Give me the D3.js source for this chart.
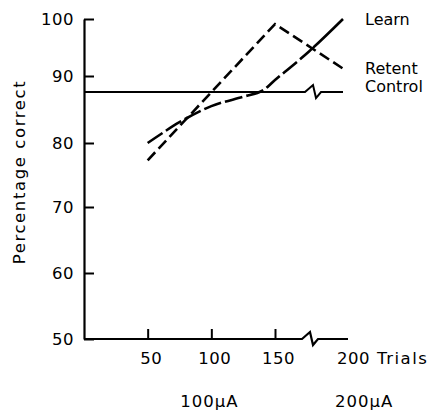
<!DOCTYPE html>
<html>
<head>
<meta charset="utf-8">
<script src="https://cdn.jsdelivr.net/npm/d3@7"></script>
<style>
  body { margin: 0; background: #fff; }
  text { font-family: "DejaVu Sans", sans-serif; fill: #000; }
</style>
</head>
<body>
<div id="chart"></div>
<script>
// trials and percentage correct
var learnTrials = [50, 75, 100, 125, 140, 150, 175, 200];
var learnPct    = [80.0, 83.1, 85.5, 86.9, 87.8, 89.4, 94.3, 100];

var retentTrials = [50, 150, 200];
var retentPct    = [77.3, 99.1, 91.3];

var controlTrials = [0, 200];
var controlPct    = [87.6, 87.6];

var yTicks = [50, 60, 70, 80, 90, 100];
var xTicks = [50, 100, 150];
var breakAt = 175;   // axis break between 150 and 200
var currents = ["100µA", "200µA"];

var width = 442, height = 414;

// the original is hand drawn, so tick spacing is slightly uneven
var y = d3.scaleLinear()
    .domain([50, 60, 70, 80, 90, 100])
    .range([339, 273, 207, 143, 76, 19]);

var x = d3.scaleLinear()
    .domain([0, 150, 200])
    .range([84, 275, 343]);

var svg = d3.select("#chart")
    .append("svg")
    .attr("width", width)
    .attr("height", height);

function zip(a, b) {
    return a.map(function(d, i) { return [d, b[i]]; });
}

//y axis
var yAxis = svg.append("g")
    .attr("transform", "translate(" + x(0) + ",0)")
    .call(d3.axisLeft(y).tickValues(yTicks).tickSizeInner(-10).tickSizeOuter(0).tickPadding(10));
yAxis.select(".domain").attr("stroke-width", 2.2);
yAxis.selectAll(".tick line").attr("stroke-width", 2);
yAxis.selectAll(".tick text")
    .style("font-size", "16.5px")
    .style("letter-spacing", "0.5px")
    .attr("font-family", null);

//x axis, line drawn by hand because of the break
var xAxis = svg.append("g")
    .attr("transform", "translate(0," + y(50) + ")")
    .call(d3.axisBottom(x).tickValues(xTicks).tickSizeInner(-10).tickSizeOuter(0).tickPadding(13));
xAxis.select(".domain").remove();
xAxis.selectAll(".tick line").attr("stroke-width", 2);
xAxis.selectAll(".tick text")
    .attr("dx", 3)
    .style("font-size", "16.5px")
    .style("letter-spacing", "0.5px")
    .attr("font-family", null);

// zigzag break drawn into a horizontal line
function brokenLine(x0, x1, yy, xb) {
    var p = d3.path();
    p.moveTo(x0, yy);
    p.lineTo(xb - 7, yy);
    p.lineTo(xb + 1, yy - 7);
    p.lineTo(xb + 4, yy + 6);
    p.lineTo(xb + 9, yy);
    p.lineTo(x1, yy);
    return p.toString();
}

svg.append("path")
    .attr("d", brokenLine(x(0), x(200) + 5, y(50), x(breakAt)))
    .attr("fill", "none")
    .attr("stroke", "#000")
    .attr("stroke-width", 2.2);

svg.append("text")
    .attr("x", x(200) - 6)
    .attr("y", y(50) + 25)
    .style("font-size", "16.5px")
    .style("letter-spacing", "0.5px")
    .text("200");

svg.append("text")
    .attr("x", x(200) + 34)
    .attr("y", y(50) + 25)
    .style("font-size", "16.5px")
    .style("letter-spacing", "1.5px")
    .text("Trials");

svg.append("text")
    .attr("x", x(100) - 2)
    .attr("y", 407)
    .attr("text-anchor", "middle")
    .style("font-size", "16.5px")
    .style("letter-spacing", "1px")
    .text(currents[0]);

svg.append("text")
    .attr("x", x(200) - 8)
    .attr("y", 407)
    .style("font-size", "16.5px")
    .style("letter-spacing", "1px")
    .text(currents[1]);

svg.append("text")
    .attr("transform", "translate(25,172) rotate(-90)")
    .attr("text-anchor", "middle")
    .style("font-size", "16.5px")
    .style("letter-spacing", "1.6px")
    .text("Percentage correct");

//control line with break
svg.append("path")
    .attr("d", brokenLine(x(controlTrials[0]), x(controlTrials[1]), y(controlPct[0]), x(breakAt) + 3))
    .attr("fill", "none")
    .attr("stroke", "#000")
    .attr("stroke-width", 2);

var line = d3.line()
    .x(function(d) { return x(d[0]); })
    .y(function(d) { return y(d[1]); });

//retention, dashed
svg.append("path")
    .datum(zip(retentTrials, retentPct))
    .attr("d", line)
    .attr("fill", "none")
    .attr("stroke", "#000")
    .attr("stroke-width", 2.6)
    .attr("stroke-dasharray", "11,5");

//learning: long dashes, then solid near the end
var split = x(178);
var defs = svg.append("defs");
defs.append("clipPath").attr("id", "left")
    .append("rect").attr("x", 0).attr("y", 0).attr("width", split).attr("height", height);
defs.append("clipPath").attr("id", "right")
    .append("rect").attr("x", split).attr("y", 0).attr("width", width - split).attr("height", height);

var curve = d3.line()
    .x(function(d) { return x(d[0]); })
    .y(function(d) { return y(d[1]); })
    .curve(d3.curveCatmullRom.alpha(0.5));

var learnData = zip(learnTrials, learnPct);

svg.append("path")
    .datum(learnData)
    .attr("d", curve)
    .attr("clip-path", "url(#left)")
    .attr("fill", "none")
    .attr("stroke", "#000")
    .attr("stroke-width", 2.6)
    .attr("stroke-dasharray", "18,4");

svg.append("path")
    .datum(learnData)
    .attr("d", curve)
    .attr("clip-path", "url(#right)")
    .attr("fill", "none")
    .attr("stroke", "#000")
    .attr("stroke-width", 2.6);

//series labels at the right end
var labels = [
    { name: "Learn",   v: learnPct[learnPct.length - 1],   dy: 6 },
    { name: "Retent",  v: retentPct[retentPct.length - 1], dy: 5 },
    { name: "Control", v: controlPct[controlPct.length - 1], dy: 0 }
];

svg.selectAll(".lab")
    .data(labels)
    .enter()
    .append("text")
    .attr("class", "lab")
    .attr("x", 365)
    .attr("y", function(d) { return y(d.v) + d.dy; })
    .style("font-size", "16px")
    .text(function(d) { return d.name; });
</script>
</body>
</html>
